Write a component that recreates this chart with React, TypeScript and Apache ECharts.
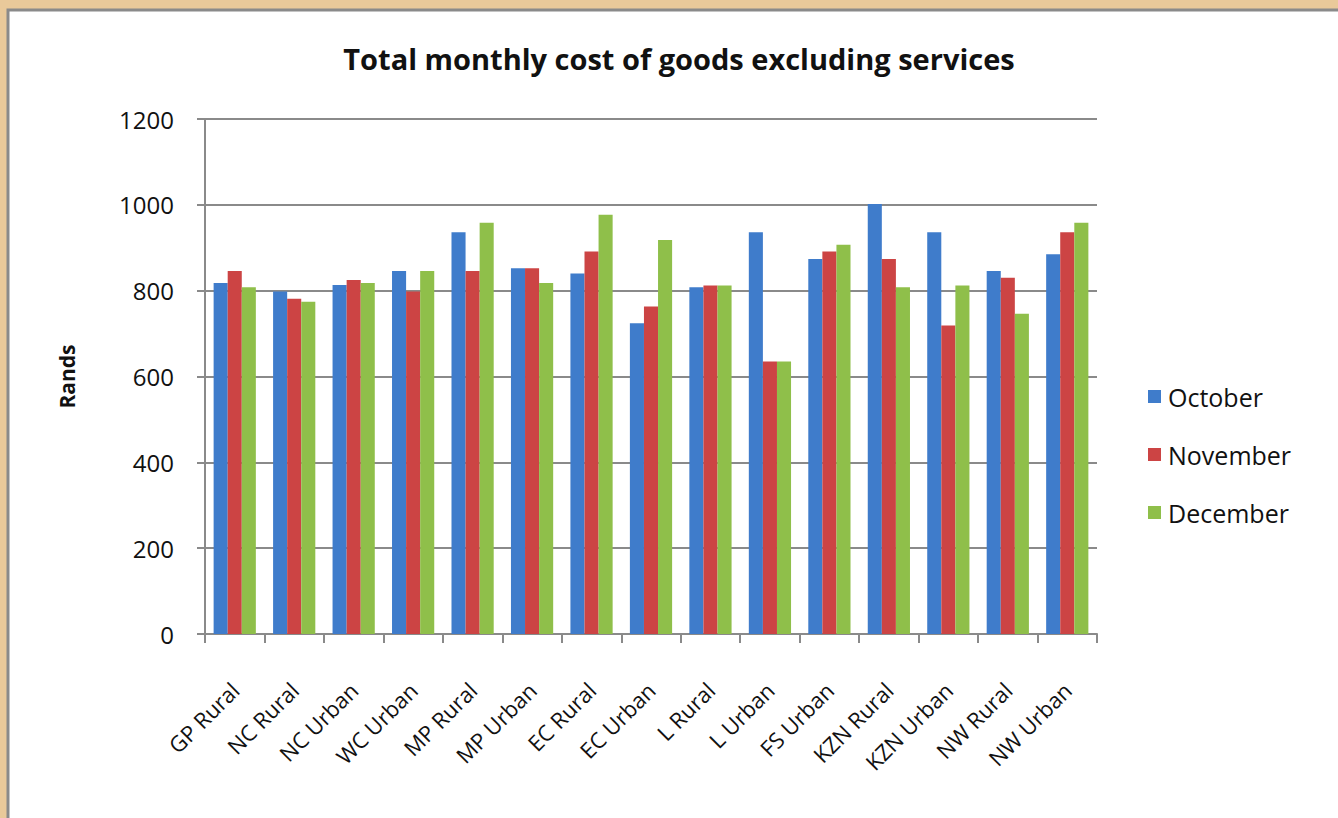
import React, { useEffect, useRef } from "react";
import * as echarts from "echarts";

const categories = [
  "GP Rural", "NC Rural", "NC Urban", "WC Urban", "MP Rural", "MP Urban", "EC Rural", "EC Urban",
  "L Rural", "L Urban", "FS Urban", "KZN Rural", "KZN Urban", "NW Rural", "NW Urban",
];
const october = [818, 798, 813, 846, 936, 852, 840, 724, 808, 936, 874, 1002, 936, 846, 885];
const november = [846, 781, 825, 798, 846, 852, 891, 763, 812, 635, 891, 874, 719, 830, 936];
const december = [808, 774, 818, 846, 958, 818, 977, 918, 812, 635, 907, 808, 812, 746, 958];
const yTicks = { min: 0, max: 1200, interval: 200 };

const FONT = "'Open Sans', sans-serif";

export default function App() {
  const ref = useRef<HTMLDivElement>(null);
  useEffect(() => {
    document.body.style.margin = "0";
    const chart = echarts.init(ref.current!, null, { renderer: "svg" });
    const mk = (name: string, data: number[], color: string) => ({
      name,
      type: "bar",
      data,
      barGap: "0%",
      barCategoryGap: "29%",
      itemStyle: { color },
    });
    chart.setOption({
      animation: false,
      backgroundColor: "#e9c99a",
      graphic: [
        {
          type: "rect",
          shape: { x: 8, y: 10, width: 1340, height: 820 },
          style: { fill: "#ffffff", stroke: "#8a8a8a", lineWidth: 3 },
          z: -10,
        },
      ],
      title: {
        text: "Total monthly cost of goods excluding services",
        left: 674,
        textAlign: "center",
        top: 39,
        textStyle: { fontFamily: FONT, fontSize: 29, fontWeight: "bold", color: "#111" },
      },
      legend: {
        orient: "vertical",
        left: 1143,
        top: 379,
        itemGap: 33,
        itemWidth: 13,
        itemHeight: 13,
        icon: "rect",
        textStyle: { fontFamily: FONT, fontSize: 25, color: "#111", padding: [0, 0, 0, 2] },
        data: ["October", "November", "December"],
      },
      grid: { left: 205, right: 241, top: 119, bottom: 184, containLabel: false },
      xAxis: {
        type: "category",
        data: categories,
        axisLine: { lineStyle: { color: "#8a8a8a", width: 2 } },
        axisTick: { show: true, alignWithLabel: false, length: 9, lineStyle: { color: "#8a8a8a", width: 2 } },
        axisLabel: {
          rotate: 45,
          interval: 0,
          fontFamily: FONT,
          fontSize: 22,
          color: "#111",
          margin: 52,
        },
      },
      yAxis: {
        type: "value",
        min: yTicks.min,
        max: yTicks.max,
        interval: yTicks.interval,
        name: "Rands",
        nameLocation: "middle",
        nameRotate: 90,
        nameGap: 128,
        nameTextStyle: { fontFamily: FONT, fontSize: 21, fontWeight: "bold", color: "#111" },
        axisLine: { show: true, lineStyle: { color: "#8a8a8a", width: 2 } },
        axisTick: { show: true, length: 8, lineStyle: { color: "#8a8a8a", width: 2 } },
        axisLabel: {
          fontFamily: FONT,
          fontSize: 24,
          color: "#111",
          margin: 31,
          formatter: (v: number) => String(v),
        },
        splitLine: { lineStyle: { color: "#8a8a8a", width: 2 } },
      },
      series: [
        mk("October", october, "#3f7ccb"),
        mk("November", november, "#cc4444"),
        mk("December", december, "#8fbf4a"),
      ],
    });
    return () => chart.dispose();
  }, []);
  return <div ref={ref} style={{ position: "absolute", left: 0, top: 0, width: 1338, height: 818 }} />;
}
